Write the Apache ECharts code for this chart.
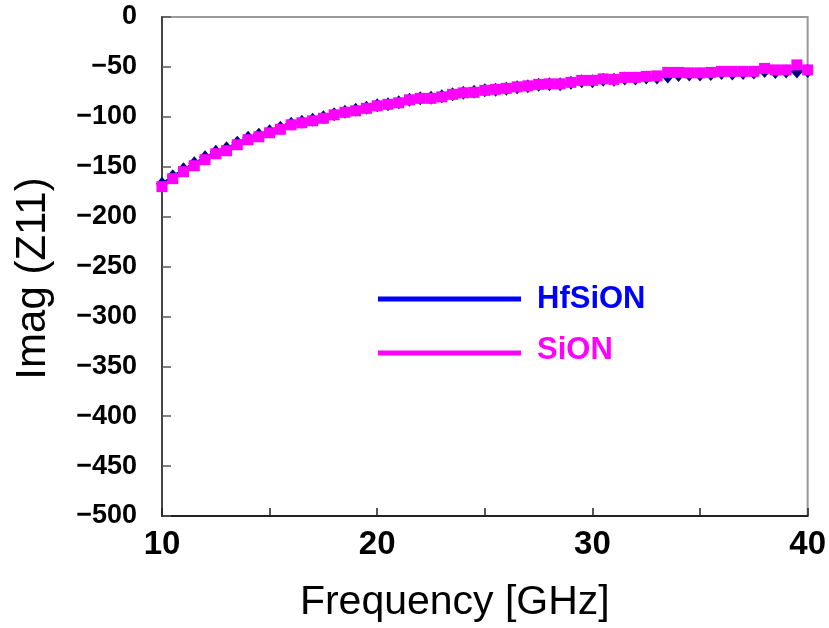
<!DOCTYPE html>
<html>
<head>
<meta charset="utf-8">
<script src="https://cdn.jsdelivr.net/npm/echarts@6/dist/echarts.min.js"></script>
<style>
html,body{margin:0;padding:0;background:#fff;}
#chart{width:829px;height:628px;}
</style>
</head>
<body>
<div id="chart"></div>
<script>
// Frequency points [GHz]
const freq = [10,10.5,11,11.5,12,12.5,13,13.5,14,14.5,15,15.5,16,16.5,17,17.5,18,18.5,19,19.5,
  20,20.5,21,21.5,22,22.5,23,23.5,24,24.5,25,25.5,26,26.5,27,27.5,28,28.5,29,29.5,
  30,30.5,31,31.5,32,32.5,33,33.5,34,34.5,35,35.5,36,36.5,37,37.5,38,38.5,39,39.5,40];

// Imag(Z11) for HfSiON
const hfsion = [-167,-159.5,-152.5,-146.5,-140.5,-135,-131.5,-126,-121,-118,-114.5,-111,-107,-105,-103,-100.5,-97.5,-95,-93,-91,
  -88.5,-87.5,-85.5,-83,-81.5,-81,-79.5,-77.5,-76,-75,-73.5,-73,-72,-70.5,-69.5,-68,-67.5,-67.5,-66,-64.5,
  -64.5,-63,-63,-61.5,-61.5,-60.5,-60.5,-59.5,-58,-57.5,-57.5,-57,-56,-56.5,-56,-55.5,-54,-55,-54.5,-54.5,-54];

// Imag(Z11) for SiON
const sion = [-170,-162,-155,-149,-143,-137,-134,-128,-123,-120,-116,-112.5,-108,-106,-104,-101.5,-98,-95.5,-94,-91.5,
  -89,-87.5,-86,-83,-81.5,-81.5,-80,-77.5,-76,-75.5,-73.5,-72.5,-71.5,-70,-69,-67.5,-67,-67,-65.5,-63.5,
  -63.5,-62,-62.5,-60.5,-60.5,-59.5,-59,-55.5,-55.5,-56,-56,-55.5,-54.5,-54.5,-54.5,-54.5,-51.5,-53,-53,-48,-53];

// Tick labels
const xTickLabels = [10,20,30,40];
const seriesNames = ['HfSiON','SiON'];

const FONT = "'Liberation Sans', Arial, Helvetica, sans-serif";

const chart = echarts.init(document.getElementById('chart'), null, {renderer:'canvas'});

function pairs(xs, ys){ return xs.map((x,i)=>[x, ys[i]]); }

const option = {
  backgroundColor:'#ffffff',
  animation:false,
  grid:{left:162, right:20, top:17, bottom:112, show:true, borderColor:'#999999', borderWidth:2, backgroundColor:'transparent'},
  xAxis:{
    type:'value', min:10, max:40, interval:5,
    name:'Frequency [GHz]', nameLocation:'middle', nameGap:66,
    nameTextStyle:{fontFamily:FONT, fontSize:41, color:'#000', padding:[0,60,0,0]},
    axisLine:{show:true, onZero:false, lineStyle:{color:'#222', width:2}},
    axisTick:{show:true, inside:true, length:8, lineStyle:{color:'#222', width:1.5}},
    axisLabel:{
      margin:12, fontFamily:FONT, fontSize:33, fontWeight:'bold', color:'#000',
      formatter:function(v){ return xTickLabels.indexOf(v)>=0 ? String(v) : ''; }
    },
    splitLine:{show:false}
  },
  yAxis:{
    type:'value', min:-500, max:0, interval:50,
    name:'Imag (Z11)', nameLocation:'middle', nameGap:108,
    nameTextStyle:{fontFamily:FONT, fontSize:42, color:'#000', padding:[0,24,0,0]},
    axisLine:{show:true, onZero:false, lineStyle:{color:'#444', width:2}},
    axisTick:{show:true, inside:true, length:9, lineStyle:{color:'#555', width:1.5}},
    axisLabel:{
      margin:25, fontFamily:FONT, fontSize:27, fontWeight:'bold', color:'#000', padding:[6,0,0,0],
      formatter:function(v){ return v<0 ? '\u2212'+Math.abs(v) : String(v); }
    },
    splitLine:{show:false}
  },
  series:[
    {
      name:seriesNames[0], type:'line', data:pairs(freq, hfsion),
      symbol:'diamond', symbolSize:[12,14], showAllSymbol:true,
      itemStyle:{color:'#000080', borderColor:'#000080', borderWidth:0},
      lineStyle:{color:'#0000ff', width:2}, z:2
    },
    {
      name:seriesNames[1], type:'line', data:pairs(freq, sion),
      symbol:'rect', symbolSize:11, showAllSymbol:true,
      itemStyle:{color:'#ff00ff', borderWidth:0},
      lineStyle:{color:'#ff00ff', width:2}, z:3
    }
  ],
  graphic:[
    {type:'line', shape:{x1:378, y1:299, x2:521, y2:299}, style:{stroke:'#0000ff', lineWidth:5}},
    {type:'text', left:537, top:284, style:{text:seriesNames[0], fill:'#0000ff', font:"bold 31px "+FONT}},
    {type:'line', shape:{x1:378, y1:353, x2:521, y2:353}, style:{stroke:'#ff00ff', lineWidth:5}},
    {type:'text', left:537, top:335, style:{text:seriesNames[1], fill:'#ff00ff', font:"bold 31px "+FONT}}
  ]
};
chart.setOption(option);
</script>
</body>
</html>
